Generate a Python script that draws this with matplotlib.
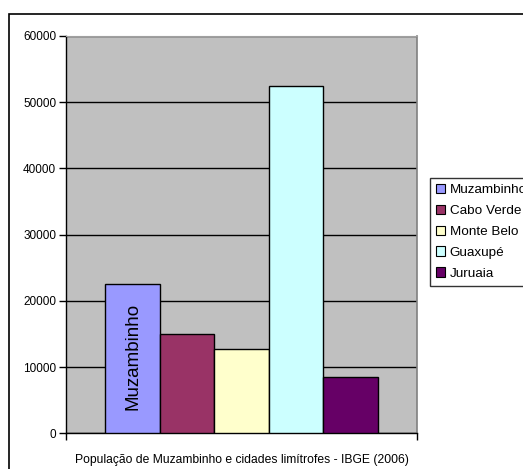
import matplotlib
matplotlib.use("Agg")
import matplotlib.pyplot as plt
from matplotlib.patches import Rectangle

cities = ["Muzambinho", "Cabo Verde", "Monte Belo", "Guaxupé", "Juruaia"]
populations = [22500, 15000, 12700, 52500, 8450]
colors = ["#9999FF", "#993366", "#FFFFCC", "#CCFFFF", "#660066"]
xlabel = "População de Muzambinho e cidades limítrofes - IBGE (2006)"
yticks = [0, 10000, 20000, 30000, 40000, 50000, 60000]

plt.rcParams['font.family'] = ['Liberation Sans', 'DejaVu Sans']

W, H = 523, 469
fig = plt.figure(figsize=(W/100, H/100), dpi=100)
fig.patch.set_facecolor("white")

# outer chart border (extends beyond right/bottom edges)
fig.patches.append(Rectangle((9/W, -0.1), 1.2, 1 - 14/H + 0.1, transform=fig.transFigure,
                             fill=False, edgecolor="black", linewidth=1.2, zorder=0))

ax = fig.add_axes([66/W, 1 - 433.3/H, (417-66)/W, (433.3-36)/H])
ax.set_facecolor("#C0C0C0")
ax.set_xlim(-0.5, 0.5)
ax.set_ylim(0, 60000)
ax.set_yticks(yticks)
ax.set_yticklabels([str(v) for v in yticks], fontsize=8.5)
ax.yaxis.grid(True, color="black", linewidth=1)
ax.set_axisbelow(True)
ax.set_xticks([-0.5, 0.5])
ax.set_xticklabels(["", ""])
ax.tick_params(axis="both", direction="out", length=5, width=1, color="black", pad=2)

w = 0.155
n = len(cities)
handles = []
for i, (c, v, col) in enumerate(zip(cities, populations, colors)):
    x = -w * n / 2 + w / 2 + i * w
    ax.bar(x, v, width=w, color=col, edgecolor="black", linewidth=1, zorder=3)
    handles.append(Rectangle((0, 0), 1, 1, facecolor=col, edgecolor="black", linewidth=0.8))
    if i == 0:
        ax.text(x, v / 2 + 300, c, rotation=90, ha="center", va="center", fontsize=13.5, zorder=4)

for s in ["left", "bottom"]:
    ax.spines[s].set_color("black")
    ax.spines[s].set_linewidth(1)
ax.spines["top"].set_color("#A0A0A0")
ax.spines["right"].set_color("#808080")
ax.spines["right"].set_linewidth(1.2)

ax.set_xlabel(xlabel, fontsize=8.7, labelpad=8)

leg = fig.legend(handles, cities, loc="upper left", bbox_to_anchor=(430/W, 1 - 178/H),
                 bbox_transform=fig.transFigure, fontsize=9.7, frameon=True, fancybox=False,
                 handlelength=0.7, handleheight=0.7, handletextpad=0.3, labelspacing=0.62,
                 borderpad=0.45, borderaxespad=0)
leg.get_frame().set_edgecolor("black")
leg.get_frame().set_linewidth(1)

fig.savefig("out.png", dpi=100)
